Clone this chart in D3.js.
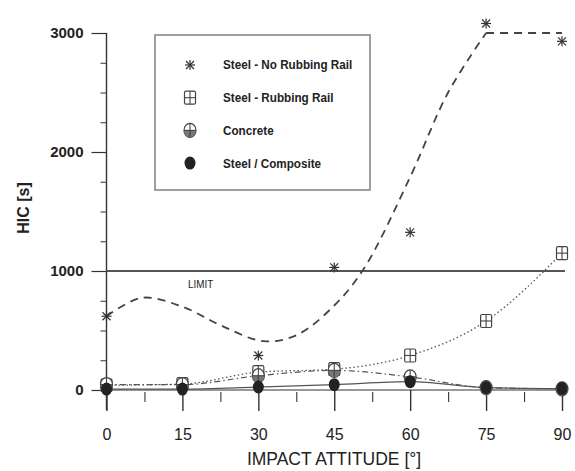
<!DOCTYPE html>
<html><head><meta charset="utf-8">
<script src="https://cdn.jsdelivr.net/npm/d3@7"></script>
<style>
html,body{margin:0;padding:0;background:#fff;}
svg{display:block;}
text{font-family:"Liberation Sans",Arial,sans-serif;fill:#222;}
</style></head>
<body><svg id="c" width="575" height="471"></svg>
<script>
// ---- data ----
const angles = [0, 15, 30, 45, 60, 75, 90];
const steelNoRail = [620, null, 290, 1030, 1325, 3080, 2930];
const steelRail = [40, 50, 150, 175, 290, 580, 1150];
const concrete = [45, 45, 120, 165, 110, 20, 10];
const composite = [8, 8, 25, 45, 70, 20, 12];
// fitted trend of "Steel - No Rubbing Rail"
const fitAngles = [0, 7, 15, 22.5, 31, 37.5, 45, 51, 60, 67.5, 75];
const fitValues = [620, 775, 700, 545, 410, 460, 710, 1030, 1790, 2500, 3000];
const fitFlatAngles = [75, 90];
const fitFlatValues = [3000, 3000];
const limitValue = 1000;
const xTicks = [0, 15, 30, 45, 60, 75, 90];
const xMinorTicks = [7.5, 22.5, 37.5, 52.5, 67.5, 82.5];
const yTicks = [0, 1000, 2000, 3000];
const yMinorTicks = [250, 500, 750, 1250, 1500, 1750, 2250, 2500, 2750];
const legendLabels = ["Steel - No Rubbing Rail", "Steel - Rubbing Rail", "Concrete", "Steel / Composite"];

// ---- scales ----
const svg = d3.select("#c");
const x = d3.scaleLinear().domain([0, 90]).range([106.5, 562]);
const y = d3.scaleLinear().domain([0, 3000]).range([390, 33]);
const ink = "#333";

// axes
const yAxis = d3.axisLeft(y).tickValues(yTicks).tickSize(15).tickPadding(8).tickFormat(d3.format("d"));
const gy = svg.append("g").attr("transform", `translate(${x(0)},0)`).call(yAxis);
gy.select(".domain").remove();
gy.selectAll(".tick line").attr("stroke", ink).attr("stroke-width", 1.2);
gy.selectAll(".tick text").attr("font-size", 15).attr("font-weight", "bold").attr("fill", "#222").attr("font-family", "Liberation Sans, Arial");
const gym = svg.append("g").attr("transform", `translate(${x(0)},0)`).call(d3.axisLeft(y).tickValues(yMinorTicks).tickSize(6).tickFormat(""));
gym.select(".domain").remove();
gym.selectAll(".tick line").attr("stroke", ink).attr("stroke-width", 1);
svg.append("line").attr("x1", x(0)).attr("x2", x(0)).attr("y1", y(3000)).attr("y2", y(0) + 20).attr("stroke", ink).attr("stroke-width", 1.4);

const xAxis = d3.axisBottom(x).tickValues(xTicks).tickSize(21).tickPadding(18).tickFormat(d3.format("d"));
const gx = svg.append("g").attr("transform", `translate(0,${y(0)})`).call(xAxis);
gx.select(".domain").attr("stroke", ink).attr("stroke-width", 1.1).attr("d", `M${x(0)},0H${x(90)}`);
gx.selectAll(".tick line").attr("stroke", ink).attr("stroke-width", 1.4);
gx.selectAll(".tick text").attr("font-size", 16).attr("fill", "#222").attr("font-family", "Liberation Sans, Arial");
const gxm = svg.append("g").attr("transform", `translate(0,${y(0) + 2})`).call(d3.axisBottom(x).tickValues(xMinorTicks).tickSize(10).tickFormat(""));
gxm.select(".domain").remove();
gxm.selectAll(".tick line").attr("stroke", ink).attr("stroke-width", 1.1);

// axis titles
svg.append("text").attr("x", 334).attr("y", 465).attr("text-anchor", "middle")
  .attr("font-size", 17.5).text("IMPACT ATTITUDE [°]");
svg.append("text").attr("transform", `translate(29,208) rotate(-90)`).attr("text-anchor", "middle")
  .attr("font-size", 16).attr("font-weight", "bold").text("HIC [s]");

// limit line
svg.append("line").attr("x1", x(0)).attr("x2", x(90) + 3).attr("y1", y(limitValue)).attr("y2", y(limitValue))
  .attr("stroke", "#555").attr("stroke-width", 1.8);
svg.append("text").attr("x", 188).attr("y", 288).attr("font-size", 11)
  .attr("transform", "translate(188,0) scale(0.9,1) translate(-188,0)").text("LIMIT");

// lines
const line = d3.line().defined(d => d[1] != null).x(d => x(d[0])).y(d => y(d[1]));
const fitPts = fitAngles.map((a, i) => [a, fitValues[i]]);
svg.append("path").attr("d", line.curve(d3.curveCatmullRom.alpha(0.5))(fitPts))
  .attr("fill", "none").attr("stroke", "#444").attr("stroke-width", 1.8).attr("stroke-dasharray", "8,6");
svg.append("path").attr("d", line.curve(d3.curveLinear)(fitFlatAngles.map((a, i) => [a, fitFlatValues[i]])))
  .attr("fill", "none").attr("stroke", "#444").attr("stroke-width", 1.8).attr("stroke-dasharray", "8,6");

const sm = d3.line().x(d => x(d[0])).y(d => y(d[1])).curve(d3.curveMonotoneX);
svg.append("path").attr("d", sm(angles.map((a, i) => [a, steelRail[i]])))
  .attr("fill", "none").attr("stroke", "#555").attr("stroke-width", 1.3).attr("stroke-dasharray", "1.5,2.5");
svg.append("path").attr("d", sm(angles.map((a, i) => [a, concrete[i]])))
  .attr("fill", "none").attr("stroke", "#555").attr("stroke-width", 1.2).attr("stroke-dasharray", "6,3,1.5,3");
svg.append("path").attr("d", sm(angles.map((a, i) => [a, composite[i]])))
  .attr("fill", "none").attr("stroke", "#555").attr("stroke-width", 1.2);

// marker drawers
function asterisk(g, cx, cy) {
  const r = 5;
  [[0, -r, 0, r], [-r, 0, r, 0], [-r * 0.8, -r * 0.8, r * 0.8, r * 0.8], [-r * 0.8, r * 0.8, r * 0.8, -r * 0.8]].forEach(l =>
    g.append("line").attr("x1", cx + l[0]).attr("y1", cy + l[1]).attr("x2", cx + l[2]).attr("y2", cy + l[3])
      .attr("stroke", "#333").attr("stroke-width", 1.2));
}
function squareMark(g, cx, cy) {
  g.append("rect").attr("x", cx - 5.5).attr("y", cy - 6.5).attr("width", 11).attr("height", 13).attr("rx", 1.5)
    .attr("fill", "#fff").attr("stroke", "#444").attr("stroke-width", 1.2);
  g.append("line").attr("x1", cx).attr("x2", cx).attr("y1", cy - 6.5).attr("y2", cy + 6.5).attr("stroke", "#444").attr("stroke-width", 1.1);
  g.append("line").attr("x1", cx - 5.5).attr("x2", cx + 5.5).attr("y1", cy).attr("y2", cy).attr("stroke", "#444").attr("stroke-width", 1.1);
}
function concreteMark(g, cx, cy) {
  g.append("ellipse").attr("cx", cx).attr("cy", cy).attr("rx", 6).attr("ry", 7).attr("fill", "#fff").attr("stroke", "#444").attr("stroke-width", 1.2);
  g.append("path").attr("d", `M${cx - 6},${cy} A6,7 0 0 0 ${cx + 6},${cy} Z`).attr("fill", "#777");
  g.append("line").attr("x1", cx).attr("x2", cx).attr("y1", cy - 7).attr("y2", cy + 7).attr("stroke", "#444").attr("stroke-width", 1.1);
  g.append("line").attr("x1", cx - 6).attr("x2", cx + 6).attr("y1", cy).attr("y2", cy).attr("stroke", "#444").attr("stroke-width", 1.1);
}
function compositeMark(g, cx, cy) {
  g.append("ellipse").attr("cx", cx).attr("cy", cy).attr("rx", 5.5).attr("ry", 6.5).attr("fill", "#222");
}

const mk = svg.append("g");
angles.forEach((a, i) => { if (steelNoRail[i] != null) asterisk(mk, x(a), y(steelNoRail[i])); });
angles.forEach((a, i) => squareMark(mk, x(a), y(steelRail[i])));
angles.forEach((a, i) => concreteMark(mk, x(a), y(concrete[i])));
angles.forEach((a, i) => compositeMark(mk, x(a), y(composite[i])));

// legend
const lg = svg.append("g");
lg.append("rect").attr("x", 155).attr("y", 35).attr("width", 215).attr("height", 155)
  .attr("fill", "#fff").attr("stroke", "#888").attr("stroke-width", 1.6);
const drawers = [asterisk, squareMark, concreteMark, compositeMark];
legendLabels.forEach((t, i) => {
  const cy = 65 + i * 32.7;
  drawers[i](lg, 190, cy);
  lg.append("text").attr("x", 223).attr("y", cy + 4.5).attr("font-size", 13).attr("font-weight", "bold")
    .attr("transform", `translate(223,0) scale(0.9,1) translate(-223,0)`).text(t);
});
</script></body></html>
